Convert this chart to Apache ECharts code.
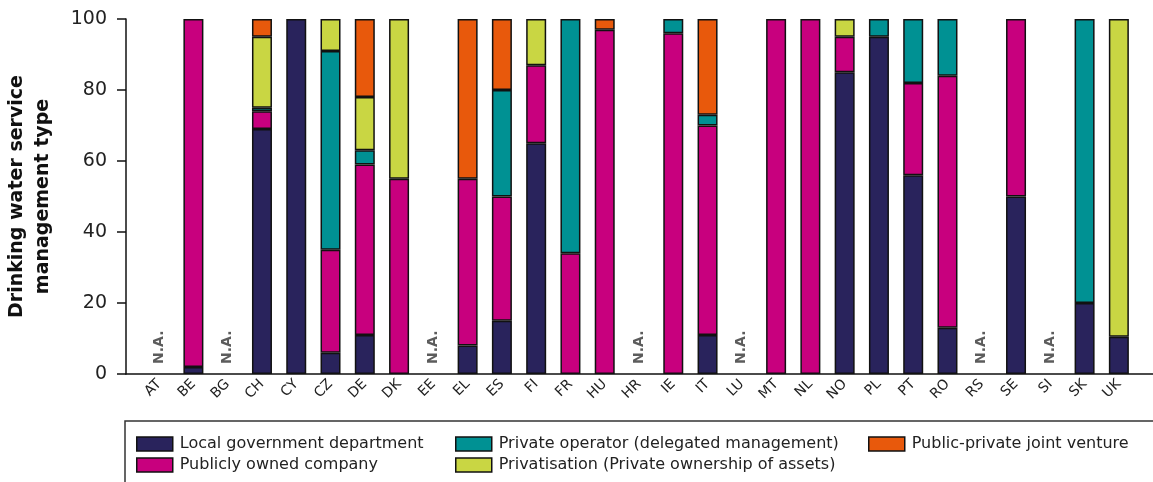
<!DOCTYPE html>
<html>
<head>
<meta charset="utf-8">
<script src="https://cdn.jsdelivr.net/npm/echarts@6/dist/echarts.min.js"></script>
<style>
  html, body { margin: 0; padding: 0; background: #fff; }
  #chart { width: 1153px; height: 482px; }
</style>
</head>
<body>
<div id="chart"></div>
<script>
// country codes along the x axis
var countries = ['AT','BE','BG','CH','CY','CZ','DE','DK','EE','EL','ES','FI','FR','HU','HR',
                 'IE','IT','LU','MT','NL','NO','PL','PT','RO','RS','SE','SI','SK','UK'];

// shares (%) per management type, null = N.A.
var localGov      = [null, 2, null, 69, 100,  6, 11,  0, null,  8, 15, 65,  0,  0, null,  0, 11, null,   0,   0, 85, 95, 56, 13, null, 50, null, 20, 10.5];
var publicCompany = [null,98, null,  5,   0, 29, 48, 55, null, 47, 35, 22, 34, 97, null, 96, 59, null, 100, 100, 10,  0, 26, 71, null, 50, null,  0,  0];
var privateOp     = [null, 0, null,  1,   0, 56,  4,  0, null,  0, 30,  0, 66,  0, null,  4,  3, null,   0,   0,  0,  5, 18, 16, null,  0, null, 80,  0];
var privatisation = [null, 0, null, 20,   0,  9, 15, 45, null,  0,  0, 13,  0,  0, null,  0,  0, null,   0,   0,  5,  0,  0,  0, null,  0, null,  0, 89.5];
var jointVenture  = [null, 0, null,  5,   0,  0, 22,  0, null, 45, 20,  0,  0,  3, null,  0, 27, null,   0,   0,  0,  0,  0,  0, null,  0, null,  0,  0];

var yTicks = [0, 20, 40, 60, 80, 100];

var names = {
  local: 'Local government department',
  pub: 'Publicly owned company',
  priv: 'Private operator (delegated management)',
  ppjv: 'Public-private joint venture',
  privat: 'Privatisation (Private ownership of assets)'
};
var colors = {
  local: '#29235c',
  pub: '#c8007e',
  priv: '#009193',
  ppjv: '#e8590c',
  privat: '#c9d643'
};

function clean(arr) {
  return arr.map(function (v) { return (v === null || v === 0) ? '-' : v; });
}

function barSeries(key, arr) {
  return {
    name: names[key],
    type: 'bar',
    stack: 'all',
    xAxisIndex: 0,
    yAxisIndex: 0,
    barWidth: 20,
    data: clean(arr),
    itemStyle: { color: colors[key], borderColor: '#111', borderWidth: 1.5 },
    emphasis: { disabled: true }
  };
}

// N.A. markers where a country has no data
var naData = countries.map(function (c, i) {
  return localGov[i] === null ? [c, 0] : null;
}).filter(function (d) { return d; });

var myChart = echarts.init(document.getElementById('chart'));

var legendBase = {
  orient: 'vertical',
  itemWidth: 36,
  itemHeight: 14,
  itemGap: 5,
  icon: 'rect',
  textStyle: { fontFamily: 'DejaVu Sans', fontSize: 16, color: '#222', padding: [0, 0, 0, 2] },
  itemStyle: { borderColor: '#111', borderWidth: 1.5 },
  selectedMode: false,
  padding: 0
};

var option = {
  animation: false,
  textStyle: { fontFamily: 'DejaVu Sans' },
  grid: [
    { left: 142, right: 17, top: 19, bottom: 108, outerBoundsMode: 'none' },
    { left: 126, right: 0, top: 19, bottom: 108, outerBoundsMode: 'none' }
  ],
  xAxis: [
    {
      type: 'category',
      gridIndex: 0,
      data: countries,
      axisLine: { show: false },
      axisTick: { alignWithLabel: true, length: 8, lineStyle: { color: '#111', width: 1.5 } },
      axisLabel: { rotate: 45, fontSize: 14, color: '#222', margin: 8, fontFamily: 'DejaVu Sans' }
    },
    {
      type: 'value',
      gridIndex: 1,
      axisLine: { show: true, lineStyle: { color: '#111', width: 1.5 } },
      axisTick: { show: false },
      axisLabel: { show: false },
      splitLine: { show: false }
    }
  ],
  yAxis: [
    {
      type: 'value',
      gridIndex: 0,
      min: 0, max: 100, interval: 20,
      show: false
    },
    {
      type: 'value',
      gridIndex: 1,
      min: yTicks[0], max: yTicks[yTicks.length - 1], interval: 20,
      name: 'Drinking water service\nmanagement type',
      nameLocation: 'middle',
      nameGap: 70,
      nameMoveOverlap: false,
      nameTextStyle: { fontSize: 19, fontWeight: 'bold', color: '#111', lineHeight: 26, fontFamily: 'DejaVu Sans' },
      axisLine: { show: true, lineStyle: { color: '#111', width: 1.5 } },
      axisTick: { show: true, length: 9, lineStyle: { color: '#111', width: 1.5 } },
      axisLabel: { fontSize: 19, color: '#222', margin: 19, fontFamily: 'DejaVu Sans' },
      splitLine: { show: false }
    }
  ],
  legend: [
    Object.assign({ left: 136, top: 436, data: [names.local, names.pub] }, legendBase),
    Object.assign({ left: 455, top: 436, data: [names.priv, names.privat] }, legendBase),
    Object.assign({ left: 868, top: 436, data: [names.ppjv] }, legendBase)
  ],
  graphic: [
    {
      type: 'rect',
      shape: { x: 125, y: 421, width: 1040, height: 70 },
      style: { fill: 'none', stroke: '#333', lineWidth: 1.5 },
      silent: true
    }
  ],
  series: [
    barSeries('local', localGov),
    barSeries('pub', publicCompany),
    barSeries('priv', privateOp),
    barSeries('privat', privatisation),
    barSeries('ppjv', jointVenture),
    {
      type: 'scatter',
      xAxisIndex: 0,
      yAxisIndex: 0,
      symbolSize: 0,
      data: naData,
      silent: true,
      label: {
        show: true,
        formatter: 'N.A.',
        position: 'top',
        distance: 10,
        rotate: 90,
        align: 'left',
        verticalAlign: 'middle',
        fontSize: 14,
        fontWeight: 'bold',
        color: '#333',
        fontFamily: 'DejaVu Sans'
      }
    }
  ]
};

myChart.setOption(option);
window.addEventListener('resize', function () {
  myChart.resize();
});
</script>
</body>
</html>
